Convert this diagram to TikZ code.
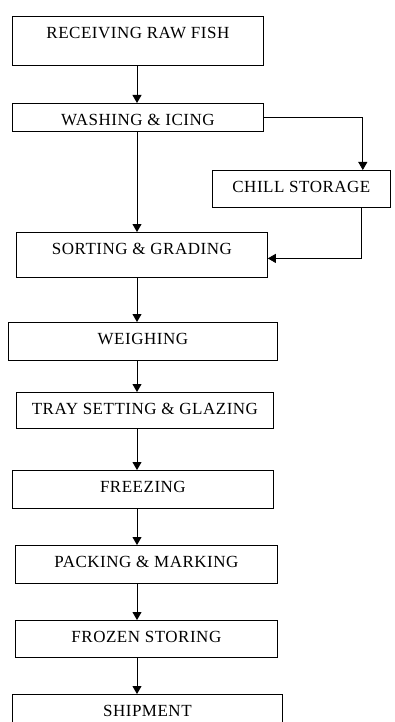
\documentclass[tikz,border=0pt]{standalone}
\usepackage{fontspec}
\setmainfont{Liberation Serif}
\newfontfamily\stagefont[LetterSpace=3]{Liberation Serif}
\usetikzlibrary{arrows.meta}

\begin{document}
\begin{tikzpicture}[x=1pt,y=-1pt,->,>={Triangle[width=9pt,length=8pt]},line width=0.8pt,
  stage/.style={draw,-,anchor=north west,inner xsep=0pt,inner ysep=0pt,text height=22pt,
    font=\stagefont\fontsize{17}{20}\selectfont}]
\useasboundingbox (0,0) rectangle (395,722);
\coordinate (spine) at (137,0);
\node[stage,minimum width=251pt,text depth=27pt] (receiving) at (12,16) {RECEIVING RAW FISH};
\node[stage,minimum width=251pt,text depth=6pt] (washing) at (12,103) {WASHING \& ICING};
\node[stage,minimum width=178pt,text depth=15pt] (chill) at (212,170) {CHILL STORAGE};
\node[stage,minimum width=251pt,text depth=23pt] (sorting) at (16,232) {SORTING \& GRADING};
\node[stage,minimum width=269pt,text depth=16pt] (weighing) at (8,322) {WEIGHING};
\node[stage,minimum width=257pt,text depth=14pt] (tray) at (16,392) {TRAY SETTING \& GLAZING};
\node[stage,minimum width=261pt,text depth=16pt] (freezing) at (12,470) {FREEZING};
\node[stage,minimum width=262pt,text depth=16pt] (packing) at (15,545) {PACKING \& MARKING};
\node[stage,minimum width=262pt,text depth=15pt] (frozen) at (15,620) {FROZEN STORING};
\node[stage,minimum width=270pt,text depth=24pt] (shipment) at (12,694) {SHIPMENT};
\path
  (receiving.south -| spine) edge (washing.north -| spine)
  (washing.south -| spine) edge (sorting.north -| spine)
  (sorting.south -| spine) edge (weighing.north -| spine)
  (weighing.south -| spine) edge (tray.north -| spine)
  (tray.south -| spine) edge (freezing.north -| spine)
  (freezing.south -| spine) edge (packing.north -| spine)
  (packing.south -| spine) edge (frozen.north -| spine)
  (frozen.south -| spine) edge (shipment.north -| spine);
\draw (washing.east) -| ([xshift=-28pt]chill.north east);
\draw ([xshift=-29pt]chill.south east) |- ([yshift=-3.5pt]sorting.east);
\end{tikzpicture}
\end{document}
